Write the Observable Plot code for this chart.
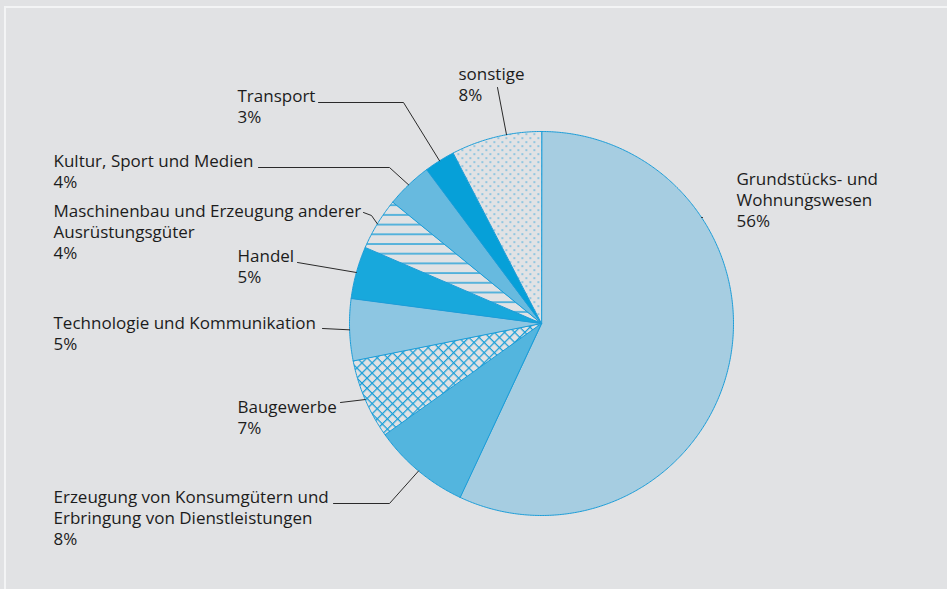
<!DOCTYPE html>
<html>
<head>
<meta charset="utf-8">
<script src="https://cdn.jsdelivr.net/npm/d3@7"></script>
<script src="https://cdn.jsdelivr.net/npm/@observablehq/plot@0.6"></script>
<style>
  html, body { margin: 0; padding: 0; background: #e1e2e4; }
  #wrap { position: relative; width: 947px; height: 589px; overflow: hidden; background: #e1e2e4; }
  #frame { position: absolute; left: 4px; top: 6px; right: -20px; bottom: -20px;
           border-top: 2px solid #f3f4f5; border-left: 2px solid #f3f4f5; }
  #chart { position: absolute; left: 0; top: 0; }
</style>
</head>
<body>
<div id="wrap"><div id="frame"></div><div id="chart"></div></div>
<script>
// ---- data ----
const categories = [
  "Grundstücks- und Wohnungswesen",
  "Erzeugung von Konsumgütern und Erbringung von Dienstleistungen",
  "Baugewerbe",
  "Technologie und Kommunikation",
  "Handel",
  "Maschinenbau und Erzeugung anderer Ausrüstungsgüter",
  "Kultur, Sport und Medien",
  "Transport",
  "sonstige"
];
const shares = [56.9, 8.2, 6.7, 5.2, 4.4, 4.4, 3.9, 2.6, 7.6];
const percentLabels = ["56%", "8%", "7%", "5%", "5%", "4%", "4%", "3%", "8%"];
const labelText = [
  "Grundstücks- und\nWohnungswesen",
  "Erzeugung von Konsumgütern und\nErbringung von Dienstleistungen",
  "Baugewerbe",
  "Technologie und Kommunikation",
  "Handel",
  "Maschinenbau und Erzeugung anderer\nAusrüstungsgüter",
  "Kultur, Sport und Medien",
  "Transport",
  "sonstige"
];

// ---- styles / layout ----
const fills = ["#a6cde1", "#53b5de", "url(#pcross)", "#8dc6e2", "#18a8dc", "url(#phline)", "#67badf", "#06a0d8", "url(#pdots)"];
const W = 947, H = 589;
const cx = 541, cy = 323, R = 192;
const fontSize = 17, lineH = 20.8;
// label anchor (left x, first baseline y)
const labelPos = [[736,182],[53,500],[237,410],[53,326],[237,259],[53,214],[53,164],[237,99],[458,77]];
// leader line points before reaching pie edge
const leaderPts = [
  [[702,217]],
  [[333,503],[389,503]],
  [[340,402]],
  [[322,328]],
  [[297,262]],
  [[363,212],[371,215]],
  [[258,167],[389,167]],
  [[318,102],[403,102]],
  [[497,87]]
];
const leaderAngleOverride = [56.5, null, null, null, null, null, null, null, 349.5];

// ---- geometry from data ----
const pie = d3.pie().sort(null).value(d => d)(shares);
const pt = (deg, r) => [cx + r * Math.sin(deg * Math.PI / 180), cy - r * Math.cos(deg * Math.PI / 180)];
const slicePts = [];
pie.forEach((p, i) => {
  const a0 = p.startAngle * 180 / Math.PI, a1 = p.endAngle * 180 / Math.PI;
  slicePts.push({k: i, x: cx, y: cy, fill: fills[i]});
  const n = Math.max(2, Math.ceil((a1 - a0) / 0.5));
  for (let j = 0; j <= n; j++) {
    const [x, y] = pt(a0 + (a1 - a0) * j / n, R);
    slicePts.push({k: i, x, y, fill: fills[i]});
  }
});
const leaderData = [];
pie.forEach((p, i) => {
  const mid = (p.startAngle + p.endAngle) / 2 * 180 / Math.PI;
  const ang = leaderAngleOverride[i] ?? mid;
  leaderPts[i].forEach(([x, y]) => leaderData.push({k: i, x, y}));
  const [ex, ey] = pt(ang, R);
  leaderData.push({k: i, x: ex, y: ey});
});
const labels = categories.map((c, i) => ({
  x: labelPos[i][0],
  y: labelPos[i][1] - 0.71 * fontSize,
  text: labelText[i] + "\n" + percentLabels[i]
}));

const svg = Plot.plot({
  width: W, height: H,
  margin: 0,
  x: {domain: [0, W], range: [0, W], axis: null},
  y: {domain: [0, H], range: [0, H], axis: null},
  color: {type: "identity"},
  style: {background: "transparent", fontFamily: "'Open Sans', 'Noto Sans', sans-serif"},
  marks: [
    Plot.line(slicePts, {x: "x", y: "y", z: "k", fill: "fill", stroke: "#1c9dd8", strokeWidth: 1, curve: "linear-closed"}),
    Plot.line(leaderData, {x: "x", y: "y", z: "k", stroke: "#2a2a2a", strokeWidth: 1}),
    Plot.text(labels, {x: "x", y: "y", text: "text", textAnchor: "start", lineAnchor: "top",
      lineHeight: lineH / fontSize, fontSize: fontSize, fill: "#1c1c1c"})
  ]
});

const ns = "http://www.w3.org/2000/svg";
const defs = document.createElementNS(ns, "defs");
defs.innerHTML = `
  <pattern id="pcross" patternUnits="userSpaceOnUse" width="7.2" height="7.2" patternTransform="rotate(45)">
    <rect width="7.2" height="7.2" fill="#e1e2e4"/>
    <line x1="0" y1="0.6" x2="7.2" y2="0.6" stroke="#1a9fd8" stroke-width="1.3"/>
    <line x1="0.6" y1="0" x2="0.6" y2="7.2" stroke="#1a9fd8" stroke-width="1.3"/>
  </pattern>
  <pattern id="phline" patternUnits="userSpaceOnUse" width="10" height="9.7">
    <rect width="10" height="9.7" fill="#e1e2e4"/>
    <line x1="0" y1="1" x2="10" y2="1" stroke="#1fa0d8" stroke-width="1.4"/>
  </pattern>
  <pattern id="pdots" patternUnits="userSpaceOnUse" width="8" height="8">
    <rect width="8" height="8" fill="#e1e2e4"/>
    <rect x="1" y="1" width="1.6" height="1.2" fill="#3aa8dc"/>
    <rect x="5" y="5" width="1.6" height="1.2" fill="#3aa8dc"/>
  </pattern>`;
svg.insertBefore(defs, svg.firstChild);
document.getElementById("chart").appendChild(svg);
</script>
</body>
</html>
